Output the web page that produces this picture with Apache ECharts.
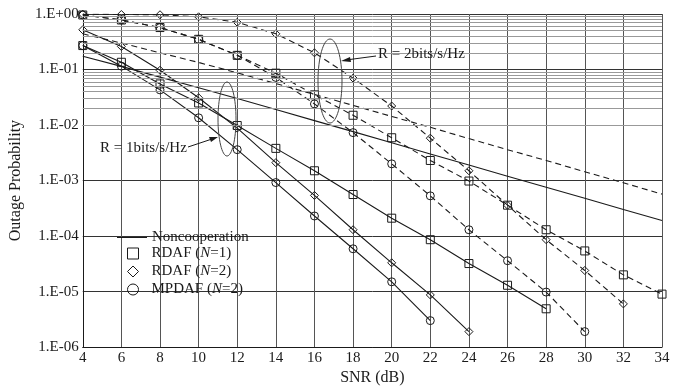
<!DOCTYPE html>
<html>
<head>
<meta charset="utf-8">
<script src="https://cdn.jsdelivr.net/npm/echarts@6/dist/echarts.min.js"></script>
<style>
  html, body { margin: 0; padding: 0; background: #fff; }
  #chart { width: 684px; height: 391px; }
</style>
</head>
<body>
<div id="chart"></div>
<script>
const FONT = '"Liberation Serif", "Times New Roman", serif'
const INK = '#1a1a1a'

const snr = [4, 6, 8, 10, 12, 14, 16, 18, 20, 22, 24, 26, 28, 30, 32, 34]

// R = 1 bits/s/Hz (solid)
const nonR1 = [0.174, 0.114, 0.073, 0.047, 0.030, 0.019, 0.012, 0.0076, 0.0048, 0.0030, 0.0019, 0.0012, 7.6e-4, 4.8e-4, 3.0e-4, 1.9e-4]
const rdaf1R1 = [0.27, 0.135, 0.055, 0.025, 0.0098, 0.0038, 0.0015, 5.6e-4, 2.1e-4, 8.6e-5, 3.2e-5, 1.3e-5, 4.9e-6]
const rdaf2R1 = [0.52, 0.26, 0.097, 0.031, 0.0088, 0.0021, 5.4e-4, 1.3e-4, 3.3e-5, 8.7e-6, 1.9e-6]
const mpdafR1 = [0.27, 0.115, 0.043, 0.0135, 0.0036, 9.2e-4, 2.3e-4, 5.9e-5, 1.5e-5, 3.0e-6]

// R = 2 bits/s/Hz (dashed)
const nonR2 = [0.44, 0.30, 0.20, 0.134, 0.087, 0.056, 0.0355, 0.0226, 0.0143, 0.0091, 0.0057, 0.0036, 0.0023, 0.00144, 9.1e-4, 5.7e-4]
const rdaf1R2 = [0.96, 0.78, 0.57, 0.35, 0.18, 0.086, 0.035, 0.015, 0.0059, 0.0023, 9.8e-4, 3.6e-4, 1.3e-4, 5.4e-5, 2.0e-5, 9.0e-6]
const rdaf2R2 = [0.99, 0.98, 0.97, 0.89, 0.71, 0.44, 0.20, 0.070, 0.022, 0.0058, 0.0015, 3.6e-4, 8.6e-5, 2.4e-5, 6.0e-6]
const mpdafR2 = [0.96, 0.78, 0.57, 0.35, 0.18, 0.072, 0.024, 0.0073, 0.0020, 5.3e-4, 1.3e-4, 3.6e-5, 9.8e-6, 1.9e-6]

const legendNames = ['Noncooperation', 'RDAF (N=1)', 'RDAF (N=2)', 'MPDAF (N=2)']

const pairs = (ys) => ys.map((y, i) => [snr[i], y])

// minor log grid lines 2..9 in each decade
const minorLines = []
for (let d = -6; d < 0; d++) {
  for (let k = 2; k <= 9; k++) minorLines.push({ yAxis: k * Math.pow(10, d) })
}

const mk = (name, ys, symbol, size, dashed) => ({
  name,
  type: 'line',
  data: pairs(ys),
  symbol,
  symbolSize: size,
  showSymbol: symbol !== 'none',
  lineStyle: { color: INK, width: 1.1, type: dashed ? [6, 4] : 'solid' },
  itemStyle: { color: 'rgba(0,0,0,0)', borderColor: INK, borderWidth: 1 },
  emphasis: { disabled: true },
  z: 3
})

const series = [
  mk(legendNames[0], nonR1, 'none', 0, false),
  mk(legendNames[0], nonR2, 'none', 0, true),
  mk(legendNames[1], rdaf1R1, 'rect', 8, false),
  mk(legendNames[1], rdaf1R2, 'rect', 8, true),
  mk(legendNames[2], rdaf2R1, 'diamond', 8, false),
  mk(legendNames[2], rdaf2R2, 'diamond', 8, true),
  mk(legendNames[3], mpdafR1, 'circle', 8, false),
  mk(legendNames[3], mpdafR2, 'circle', 8, true)
]
series[0].markLine = {
  silent: true,
  symbol: ['none', 'none'],
  label: { show: false },
  lineStyle: { color: '#999', width: 1, type: 'solid' },
  animation: false,
  data: minorLines
}

const richText = {
  t: { fontFamily: FONT, fontSize: 15, color: INK },
  i: { fontFamily: FONT, fontSize: 15, color: INK, fontStyle: 'italic' }
}
const legendFmt = (name) => {
  const m = name.match(/^(.*\()N(=.*)$/)
  if (!m) return '{t|' + name + '}'
  return '{t|' + m[1] + '}{i|N}{t|' + m[2] + '}'
}

const chart = echarts.init(document.getElementById('chart'), null, { renderer: 'canvas' })
chart.setOption({
  animation: false,
  backgroundColor: '#fff',
  textStyle: { fontFamily: FONT, color: INK },
  grid: { left: 82, right: 22, top: 14, bottom: 39 },
  legend: [
    {
      data: [{ name: legendNames[0], icon: 'path://M0,0H30V1H0Z' }],
      left: 112, top: 225,
      itemWidth: 30, itemHeight: 1,
      itemStyle: { color: INK, borderWidth: 0 },
      formatter: legendFmt,
      textStyle: { rich: richText, padding: [0, 0, 0, 0] },
      selectedMode: false
    },
    {
      data: [
        { name: legendNames[1], icon: 'rect' },
        { name: legendNames[2], icon: 'diamond' },
        { name: legendNames[3], icon: 'circle' }
      ],
      orient: 'vertical',
      left: 122, top: 241,
      itemWidth: 11, itemHeight: 11, itemGap: 3,
      itemStyle: { color: 'rgba(0,0,0,0)', borderColor: INK, borderWidth: 1 },
      formatter: legendFmt,
      textStyle: { rich: richText, padding: [0, 0, 0, 8] },
      selectedMode: false
    }
  ],
  xAxis: {
    type: 'value',
    min: 4, max: 34, interval: 2,
    name: 'SNR (dB)',
    nameLocation: 'middle',
    nameGap: 20,
    nameTextStyle: { fontFamily: FONT, fontSize: 16, color: INK },
    axisLine: { lineStyle: { color: INK, width: 1 } },
    axisTick: { show: false },
    axisLabel: { fontFamily: FONT, fontSize: 15, color: INK, margin: 3 },
    splitLine: { show: true, lineStyle: { color: '#555', width: 1 } }
  },
  yAxis: {
    type: 'log',
    logBase: 10,
    min: 1e-6, max: 1,
    name: 'Outage Probability',
    nameLocation: 'middle',
    nameGap: 56,
    nameTextStyle: { fontFamily: FONT, fontSize: 16, color: INK },
    axisLine: { show: true, lineStyle: { color: INK, width: 1 } },
    axisTick: { show: false },
    axisLabel: {
      fontFamily: FONT, fontSize: 15, color: INK, margin: 4,
      formatter: (v) => {
        const e = Math.round(Math.log10(v))
        return '1.E' + (e >= 0 ? '+' : '-') + String(Math.abs(e)).padStart(2, '0')
      }
    },
    splitLine: { show: true, lineStyle: { color: '#333', width: 1 } }
  },
  series,
  graphic: [
    { type: 'ellipse', shape: { cx: 330, cy: 81, rx: 12, ry: 42 }, style: { fill: 'none', stroke: '#444', lineWidth: 1 }, z: 10 },
    { type: 'ellipse', shape: { cx: 227, cy: 119, rx: 9, ry: 37 }, style: { fill: 'none', stroke: '#444', lineWidth: 1 }, z: 10 },
    { type: 'line', shape: { x1: 376, y1: 56, x2: 346, y2: 60 }, style: { stroke: INK, lineWidth: 1 }, z: 10 },
    { type: 'polygon', shape: { points: [[341, 61], [350, 57], [351, 62]] }, style: { fill: INK }, z: 10 },
    { type: 'line', shape: { x1: 188, y1: 147, x2: 212, y2: 139 }, style: { stroke: INK, lineWidth: 1 }, z: 10 },
    { type: 'polygon', shape: { points: [[218, 137], [209, 137], [211, 142]] }, style: { fill: INK }, z: 10 },
    { type: 'text', style: { text: 'R = 2bits/s/Hz', x: 378, y: 54, font: '15px ' + FONT, fill: INK, verticalAlign: 'middle' }, z: 10 },
    { type: 'text', style: { text: 'R = 1bits/s/Hz', x: 100, y: 148, font: '15px ' + FONT, fill: INK, verticalAlign: 'middle' }, z: 10 }
  ]
})
</script>
</body>
</html>
